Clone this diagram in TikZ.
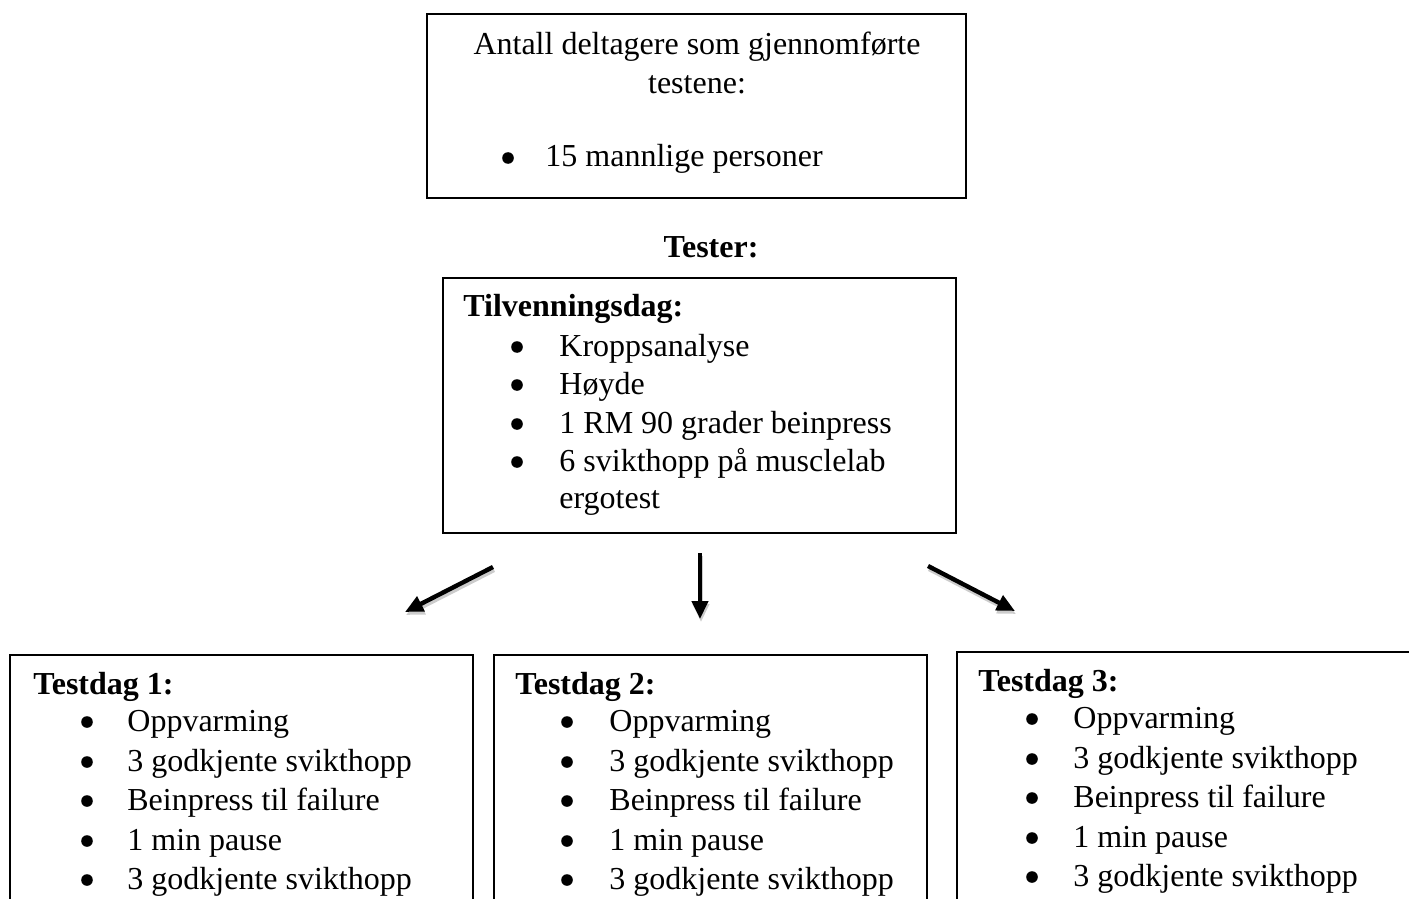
\documentclass[tikz,border=0pt]{standalone}
\usepackage{fontspec}
\setmainfont{Liberation Serif}
\usetikzlibrary{arrows.meta}
\begin{document}
\begin{tikzpicture}[x=0.5pt,y=-0.5pt,
  box/.style={draw=black, line width=0.75pt},
  txt/.style={anchor=base west, inner sep=0pt, font=\fontsize{16}{19}\selectfont},
  ctxt/.style={anchor=base, inner sep=0pt, font=\fontsize{16}{19}\selectfont},
  btxt/.style={anchor=base west, inner sep=0pt, font=\fontsize{16}{19}\selectfont\bfseries},
  dot/.style={circle, fill=black, inner sep=0pt, minimum size=5.8pt},
  arr/.style={line width=2.2pt, -{Triangle[length=9pt,width=8pt]}},
  shad/.style={line width=2.2pt, draw=black!20, -{Triangle[length=9pt,width=8pt]}}
]
\useasboundingbox (0,0) rectangle (1409,899);
\clip (0,0) rectangle (1409,899);
% boxes
\draw[box] (427,14) rectangle (966,198);
\draw[box] (443,278) rectangle (956,533);
\draw[box] (10,655) rectangle (473,950);
\draw[box] (494,655) rectangle (927,950);
\draw[box] (957,652) rectangle (1430,950);
% top box text
\node[ctxt] (t1) at (697,55) {Antall deltagere som gjennomførte};
\node[ctxt] (t2) at (697,94) {testene:};
\node[dot] (tb) at (508,158) {};
\node[txt] (t3) at (545,167) {15 mannlige personer};
% tester label
\node[ctxt, font=\fontsize{16}{19}\selectfont\bfseries] (tester) at (711,257) {Tester:};
% tilvenningsdag
\node[btxt] (tvh) at (463,316) {Tilvenningsdag:};
\foreach \yy/\lbl [count=\i] in {356/Kroppsanalyse,394/Høyde,433/1 RM 90 grader beinpress,471/6 svikthopp på musclelab}{
  \node[dot] (tvb\i) at (517,\yy-9) {};
  \node[txt] (tvt\i) at (559,\yy) {\lbl};
}
\node[txt] (tvt5) at (559,508) {ergotest};
% testdag columns
\foreach \n/\bx/\tx/\hx/\dy in {1/87/127/33/0,2/567/609/515/0,3/1032/1073/978/-3}{
  \node[btxt] (h\n) at (\hx,694+\dy) {Testdag \n:};
  \foreach \yy/\lbl [count=\i] in {731/Oppvarming,771/3 godkjente svikthopp,810/Beinpress til failure,850/1 min pause,889/3 godkjente svikthopp}{
    \node[dot] (b\n\i) at (\bx,\yy+\dy-9) {};
    \node[txt] (t\n\i) at (\tx,\yy+\dy) {\lbl};
  }
}
% arrows
\coordinate (a1s) at (493,567); \coordinate (a1e) at (405,612);
\coordinate (a2s) at (700,553); \coordinate (a2e) at (700,619);
\coordinate (a3s) at (928,566); \coordinate (a3e) at (1015,611);
\foreach \k in {1,2,3}{
  \draw[shad] ([shift={(1,3)}]a\k s) -- ([shift={(1,3)}]a\k e);
}
\draw[arr] (a1s) -- (a1e);
\draw[arr] (a2s) -- (a2e);
\draw[arr] (a3s) -- (a3e);
\end{tikzpicture}
\end{document}
